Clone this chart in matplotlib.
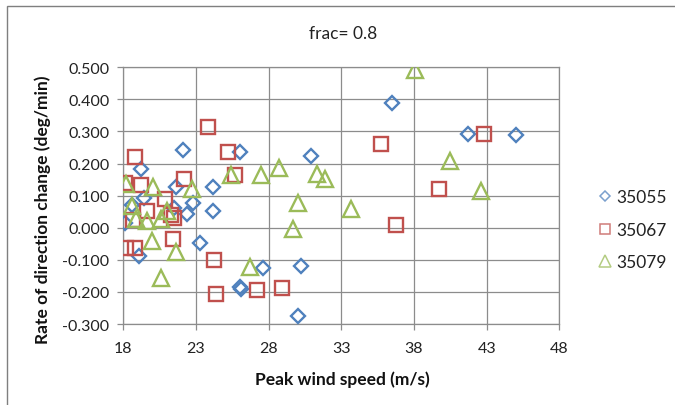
import numpy as np
import matplotlib
matplotlib.use('Agg')
import matplotlib.pyplot as plt
from matplotlib.patches import Rectangle

plt.rcParams['font.family'] = ['Lato', 'DejaVu Sans']

### data ###
ws_35055 = [18.1, 18.6, 19.25, 19.4, 19.1, 21.6, 22.1, 22.4, 22.8, 21.5, 23.3, 24.2, 24.2,
            26.0, 26.0, 26.1, 27.6, 30.2, 30.0, 30.9, 36.5, 41.7, 45.0]
rate_35055 = [0.016, 0.072, 0.184, 0.092, -0.089, 0.126, 0.242, 0.043, 0.076, 0.062, -0.047,
              0.126, 0.052, 0.235, -0.184, -0.190, -0.124, -0.118, -0.274, 0.224, 0.390, 0.293, 0.288]

ws_35067 = [18.1, 18.8, 19.25, 18.2, 18.8, 18.7, 19.6, 20.9, 21.3, 21.5, 21.4, 22.2, 23.85,
            24.25, 24.4, 25.2, 25.7, 27.2, 28.9, 35.7, 36.75, 39.7, 42.85]
rate_35067 = [0.138, 0.221, 0.134, -0.064, -0.062, 0.024, 0.053, 0.090, 0.040, 0.030, -0.036,
              0.152, 0.314, -0.101, -0.205, 0.235, 0.164, -0.193, -0.189, 0.262, 0.007, 0.120, 0.293]

ws_35079 = [18.15, 18.6, 18.85, 19.6, 20.05, 19.95, 20.6, 20.6, 21.0, 21.6, 22.7, 25.4, 26.7,
            27.5, 28.7, 29.7, 30.0, 31.3, 31.9, 33.65, 38.07, 40.5, 42.6]
rate_35079 = [0.136, 0.068, 0.026, 0.022, 0.126, -0.040, -0.157, 0.028, 0.053, -0.076, 0.120,
              0.163, -0.123, 0.164, 0.187, -0.005, 0.077, 0.169, 0.152, 0.057, 0.490, 0.207, 0.116]

labels = ['35055', '35067', '35079']
xticks = [18, 23, 28, 33, 38, 43, 48]
yticks = [-0.3, -0.2, -0.1, 0.0, 0.1, 0.2, 0.3, 0.4, 0.5]

blue = '#4F81BD'
red = '#C0504D'
green = '#9BBB59'
grid_c = '#8C8C8C'

fig = plt.figure(figsize=(6.75, 4.06), dpi=100)
ax = fig.add_axes([0.1827, 0.1995, 0.6459, 0.6323])

### scatter series ###
ax.plot(ws_35055, rate_35055, ls='none', marker='D', ms=7, mfc='none', mec=blue, mew=1.7,
        label=labels[0], zorder=3)
ax.plot(ws_35067, rate_35067, ls='none', marker='s', ms=9.5, mfc='none', mec=red, mew=1.7,
        label=labels[1], zorder=4)
ax.plot(ws_35079, rate_35079, ls='none', marker='^', ms=11, mfc='none', mec=green, mew=1.7,
        label=labels[2], zorder=5)

ax.set_xlim(18, 48)
ax.set_ylim(-0.3, 0.5)
ax.set_xticks(xticks)
ax.set_yticks(yticks)
ax.set_yticklabels(['%.3f' % v for v in yticks])
ax.grid(True, color=grid_c, lw=0.9)
ax.set_axisbelow(True)
for s in ax.spines.values():
    s.set_color(grid_c)
    s.set_linewidth(0.9)
ax.tick_params(axis='both', direction='out', length=4, width=0.9, color=grid_c,
               labelsize=11.5, labelcolor='#222222')
ax.tick_params(axis='y', pad=6)
ax.tick_params(axis='x', pad=8)

### texts ###
fig.text(0.508, 0.916, 'frac= 0.8', ha='center', va='center', fontsize=12.5, color='#222222')
fig.text(0.064, 0.483, 'Rate of direction change (deg/min)', rotation=90, ha='center',
         va='center', fontsize=12.5, fontweight='bold', color='#111111')
fig.text(0.507, 0.064, 'Peak wind speed (m/s)', ha='center', va='center', fontsize=12.5,
         fontweight='bold', color='#111111')

leg = fig.legend(loc='center left', bbox_to_anchor=(0.875, 0.432), frameon=False,
                 fontsize=12.5, markerscale=0.75, handlelength=0.7, handletextpad=0.3,
                 labelspacing=0.95, borderpad=0)
for t in leg.get_texts():
    t.set_color('#222222')
for h in leg.legend_handles:
    h.set_markeredgewidth(1.1)
    h.set_alpha(0.75)

### chart area border ###
fig.add_artist(Rectangle((6.5 / 675, -0.1), 1.5, 1.1 - 7.3 / 406, transform=fig.transFigure,
                         fill=False, ec='#7F7F7F', lw=1.0))

plt.savefig('out.png', dpi=100)
